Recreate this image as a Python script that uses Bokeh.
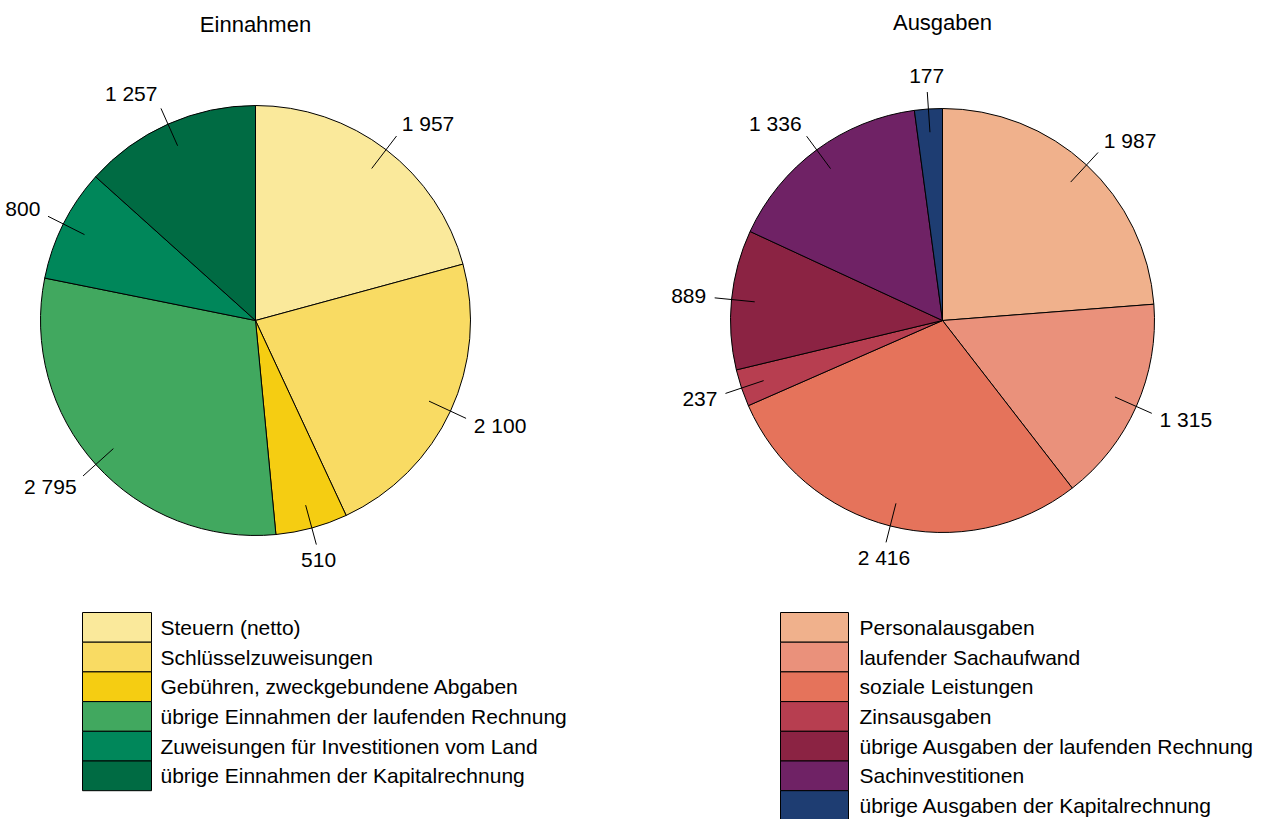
import numpy as np
from bokeh.plotting import figure
from bokeh.models import Range1d, ColumnDataSource
from bokeh.core.properties import value
from bokeh.embed import file_html
from bokeh.resources import INLINE

# ---------------- data ----------------
ein_title = "Einnahmen"
ein_categories = [
    "Steuern (netto)",
    "Schlüsselzuweisungen",
    "Gebühren, zweckgebundene Abgaben",
    "übrige Einnahmen der laufenden Rechnung",
    "Zuweisungen für Investitionen vom Land",
    "übrige Einnahmen der Kapitalrechnung",
]
ein_values = [1957, 2100, 510, 2795, 800, 1257]
ein_colors = ["#FAE99B", "#F9DB63", "#F5CD12", "#41A85F", "#00875A", "#006B43"]

aus_title = "Ausgaben"
aus_categories = [
    "Personalausgaben",
    "laufender Sachaufwand",
    "soziale Leistungen",
    "Zinsausgaben",
    "übrige Ausgaben der laufenden Rechnung",
    "Sachinvestitionen",
    "übrige Ausgaben der Kapitalrechnung",
]
aus_values = [1987, 1315, 2416, 237, 889, 1336, 177]
aus_colors = ["#F0B18C", "#EA917B", "#E5735B", "#B73E50", "#8B2343", "#6F2265", "#1E3D72"]

# ---------------- figure ----------------
W, H = 1261, 819
FONT = value("Liberation Sans")
FS_PX = 21
FS = f"{FS_PX}px"
FS_TITLE = "22px"

p = figure(width=W, height=H, x_range=Range1d(0, W), y_range=Range1d(0, H),
           x_axis_type=None, y_axis_type=None, output_backend="svg",
           toolbar_location=None, min_border=0)
p.grid.visible = False
p.outline_line_color = None
p.background_fill_color = "white"


def Y(ys):
    return H - np.asarray(ys, dtype=float)


def fmt(v):
    return f"{v:,}".replace(",", " ")


def text_width(s):
    return sum(0.278 if c == " " else 0.556 for c in s) * FS_PX


def draw_pie(cx, cy, r, values, colors, title, ty):
    vals = np.asarray(values, dtype=float)
    total = vals.sum()
    cum = np.concatenate([[0], np.cumsum(vals)]) / total
    start = np.pi / 2 - 2 * np.pi * cum[1:]
    end = np.pi / 2 - 2 * np.pi * cum[:-1]
    mid = (start + end) / 2
    src = ColumnDataSource(dict(x=[cx] * len(vals), y=list(Y([cy] * len(vals))),
                                start=start, end=end, color=colors))
    p.wedge(x="x", y="y", radius=r, start_angle="start", end_angle="end",
            direction="anticlock", fill_color="color", line_color="black",
            line_width=1, source=src)
    cyd = float(Y(cy))
    ux, uy = np.cos(mid), np.sin(mid)
    # leader lines
    p.segment(x0=cx + 0.89 * r * ux, y0=cyd + 0.89 * r * uy,
              x1=cx + 1.08 * r * ux, y1=cyd + 1.08 * r * uy,
              line_color="black", line_width=1)
    # labels: anchored just outside the line end, pushed away by half their size
    labels = [fmt(v) for v in values]
    widths = np.array([text_width(s) for s in labels])
    th = 15.0
    sx = np.where(np.abs(ux) > 0.35, np.sign(ux), 0.0)
    lx = cx + 1.12 * r * ux + sx * widths / 2
    ly = cyd + 1.12 * r * uy + uy * th / 2
    p.text(x=lx, y=ly, text=labels, text_align="center", text_baseline="middle",
           text_font=FONT, text_font_size=FS, text_color="black")
    # title
    p.text(x=[cx], y=list(Y([ty])), text=[title], text_align="center",
           text_baseline="middle", text_font=FONT, text_font_size=FS_TITLE, text_color="black")


def draw_legend(x0, x1, tx, top, row_h, cats, colors):
    n = len(cats)
    idx = np.arange(n)
    tops = top + idx * row_h
    p.quad(left=[x0] * n, right=[x1] * n, top=Y(tops), bottom=Y(tops + row_h),
           fill_color=colors, line_color="black", line_width=1)
    p.text(x=[tx] * n, y=Y(tops + row_h / 2), text=cats, text_align="left",
           text_baseline="middle", text_font=FONT, text_font_size=FS, text_color="black")


draw_pie(255, 320, 215, ein_values, ein_colors, ein_title, 24)
draw_pie(942, 320, 212, aus_values, aus_colors, aus_title, 22)

draw_legend(82, 151, 160, 612, 29.7, ein_categories, ein_colors)
draw_legend(780, 848, 859, 612, 29.7, aus_categories, aus_colors)

open("out.html", "w").write(file_html(p, INLINE))
